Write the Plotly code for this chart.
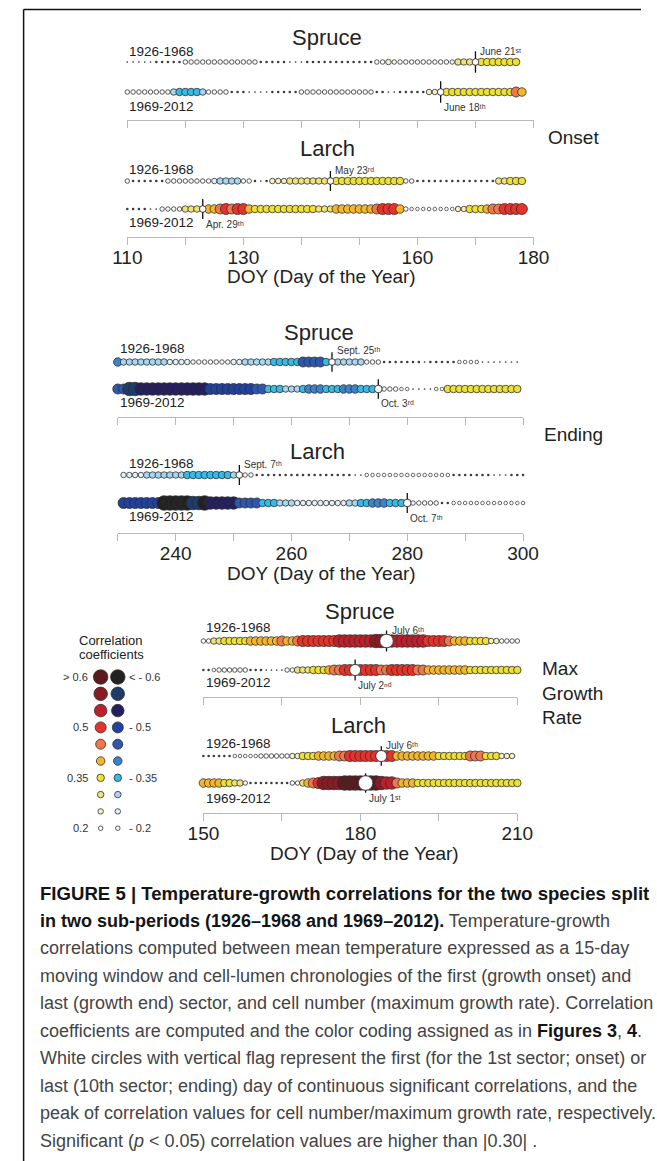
import plotly.graph_objects as go

# ============================ DATA ============================
# Correlation values per day of year, read from the figure as runs of
# consecutive days: (first DOY, last DOY, correlation coefficient)

# ---- Onset (DOY 110-180)
onset_spruce_1926 = [(110, 114, 0.05), (115, 119, 0.1), (120, 132, 0.2), (133, 137, 0.1), (138, 140, 0.05),
                     (141, 152, 0.1), (153, 154, 0.2), (155, 155, 0.25), (156, 166, 0.2), (167, 170, 0.3),
                     (171, 177, 0.35)]
onset_spruce_1969 = [(110, 117, 0.2), (118, 118, -0.3), (119, 122, -0.35), (123, 123, -0.3), (124, 127, -0.2),
                     (128, 130, 0.1), (131, 134, 0.05), (135, 139, 0.1), (140, 152, 0.2), (153, 154, 0.1),
                     (155, 156, 0.05), (157, 161, 0.1), (162, 163, 0.25), (164, 164, 0.3), (165, 176, 0.35),
                     (177, 177, 0.45), (178, 178, 0.4)]
onset_larch_1926 = [(110, 110, 0.2), (111, 116, 0.1), (117, 124, 0.2), (125, 125, -0.25), (126, 129, -0.3),
                    (130, 131, -0.2), (132, 132, 0.1), (133, 133, 0.05), (134, 134, 0.1), (135, 137, 0.25),
                    (138, 145, 0.3), (146, 157, 0.35), (158, 159, 0.2), (160, 173, 0.1), (174, 175, 0.3),
                    (176, 178, 0.35)]
onset_larch_1969 = [(110, 113, 0.1), (114, 115, 0.05), (116, 119, 0.2), (120, 123, 0.3), (124, 125, 0.4),
                    (126, 126, 0.45), (127, 127, 0.5), (128, 128, 0.45), (129, 130, 0.5), (131, 131, 0.4),
                    (132, 142, 0.35), (143, 145, 0.3), (146, 152, 0.4), (153, 153, 0.45), (154, 156, 0.5),
                    (157, 157, 0.4), (158, 158, 0.2), (159, 166, 0.15), (167, 168, 0.25), (169, 171, 0.35),
                    (172, 172, 0.4), (173, 174, 0.45), (175, 178, 0.5)]

# ---- Ending (DOY 230-300)
ending_spruce_1926 = [(230, 230, -0.4), (231, 238, -0.3), (239, 242, -0.25), (243, 249, -0.2), (250, 251, -0.25),
                      (252, 256, -0.3), (257, 261, -0.35), (262, 265, -0.45), (266, 266, -0.35), (267, 272, -0.3),
                      (273, 275, -0.2), (276, 282, 0.1), (283, 283, 0.05), (284, 288, 0.1), (289, 292, 0.15),
                      (293, 299, 0.05)]
ending_spruce_1969 = [(230, 231, -0.45), (232, 233, -0.6), (234, 245, -0.55), (246, 253, -0.5), (254, 255, -0.45),
                      (256, 258, -0.35), (259, 261, -0.3), (262, 262, -0.35), (263, 265, -0.4), (266, 268, -0.35),
                      (269, 271, -0.4), (272, 275, -0.35), (276, 278, -0.2), (279, 280, -0.15), (281, 284, 0.05),
                      (285, 286, 0.15), (287, 299, 0.35)]
ending_larch_1926 = [(231, 234, -0.25), (235, 241, -0.3), (242, 249, -0.35), (250, 251, -0.3), (252, 253, -0.2),
                     (254, 270, 0.1), (271, 272, 0.05), (273, 287, 0.15), (288, 294, 0.1), (295, 297, 0.05),
                     (298, 300, 0.1)]
ending_larch_1969 = [(231, 237, -0.5), (238, 242, -0.65), (243, 244, -0.6), (245, 245, -0.65), (246, 250, -0.55),
                     (251, 254, -0.45), (255, 257, -0.35), (258, 260, -0.3), (261, 269, -0.25), (270, 271, -0.3),
                     (272, 273, -0.35), (274, 276, -0.4), (277, 280, -0.35), (281, 285, -0.2), (286, 287, 0.1),
                     (288, 300, 0.15)]

# ---- Maximum growth rate (DOY 150-210)
max_spruce_1926 = [(150, 151, 0.2), (152, 153, 0.3), (154, 158, 0.35), (159, 164, 0.4), (165, 165, 0.45),
                   (166, 167, 0.4), (168, 168, 0.45), (169, 175, 0.5), (176, 182, 0.55), (183, 185, 0.6),
                   (186, 192, 0.55), (193, 196, 0.5), (197, 197, 0.45), (198, 200, 0.4), (201, 204, 0.35),
                   (205, 206, 0.25), (207, 210, 0.2)]
max_spruce_1969 = [(150, 151, 0.1), (152, 152, 0.15), (153, 158, 0.2), (159, 161, 0.1), (162, 165, 0.05),
                   (166, 167, 0.2), (168, 170, 0.3), (171, 173, 0.35), (174, 174, 0.4), (175, 176, 0.45),
                   (177, 183, 0.5), (184, 185, 0.45), (186, 190, 0.5), (191, 192, 0.45), (193, 200, 0.4),
                   (201, 210, 0.35)]
max_larch_1926 = [(150, 155, 0.1), (156, 160, 0.15), (161, 166, 0.2), (167, 168, 0.25), (169, 171, 0.35),
                  (172, 175, 0.4), (176, 177, 0.45), (178, 186, 0.5), (187, 194, 0.4), (195, 200, 0.35),
                  (201, 203, 0.45), (204, 206, 0.35), (207, 209, 0.25)]
max_larch_1969 = [(150, 153, 0.4), (154, 155, 0.35), (156, 157, 0.3), (158, 158, 0.2), (159, 166, 0.1),
                  (167, 168, 0.2), (169, 169, 0.3), (170, 170, 0.4), (171, 171, 0.45), (172, 172, 0.5),
                  (173, 176, 0.6), (177, 183, 0.65), (184, 184, 0.6), (185, 186, 0.55), (187, 187, 0.45),
                  (188, 190, 0.4), (191, 210, 0.35)]

# flagged (white) day in each row: spruce 1926, spruce 1969, larch 1926, larch 1969
onset_flag_days = [170, 164, 145, 123]
ending_flag_days = [267, 275, 251, 280]
max_flag_days = [185, 179, 184, 181]
onset_flag_labels = ["June 21ˢᵗ", "June 18ᵗʰ", "May 23ʳᵈ", "Apr. 29ᵗʰ"]
ending_flag_labels = ["Sept. 25ᵗʰ", "Oct. 3ʳᵈ", "Sept. 7ᵗʰ", "Oct. 7ᵗʰ"]
max_flag_labels = ["July 6ᵗʰ", "July 2ⁿᵈ", "July 6ᵗʰ", "July 1ˢᵗ"]

periods = ["1926-1968", "1969-2012"]
species_names = ["Spruce", "Larch"]
panel_names = ["Onset", "Ending", "Max<br>Growth<br>Rate"]

onset_range = [110, 180]
onset_tickvals = [110, 130, 160, 180]
onset_ticktext = ["110", "130", "160", "180"]
onset_minor_step = 10
ending_range = [230, 300]
ending_tickvals = [240, 260, 280, 300]
ending_ticktext = ["240", "260", "280", "300"]
ending_minor_step = 10
max_range = [150, 210]
max_tickvals = [150, 180, 210]
max_ticktext = ["150", "180", "210"]
max_minor_step = 15
axis_title = "DOY (Day of the Year)"

legend_levels = [0.65, 0.6, 0.55, 0.5, 0.45, 0.4, 0.35, 0.3, 0.25, 0.2]
legend_pos_labels = ["> 0.6", "", "", "0.5", "", "", "0.35", "", "", "0.2"]
legend_neg_labels = ["< - 0.6", "", "", "- 0.5", "", "", "- 0.35", "", "", "- 0.2"]
legend_title = ["Correlation", "coefficients"]

BOLD = '<b style="color:#141414">'
caption_lines = [
    BOLD + "FIGURE 5 | Temperature-growth correlations for the two species split</b>",
    BOLD + "in two sub-periods (1926–1968 and 1969–2012).</b> Temperature-growth",
    "correlations computed between mean temperature expressed as a 15-day",
    "moving window and cell-lumen chronologies of the first (growth onset) and",
    "last (growth end) sector, and cell number (maximum growth rate). Correlation",
    "coefficients are computed and the color coding assigned as in " + BOLD + "Figures 3</b>, " + BOLD + "4</b>.",
    "White circles with vertical flag represent the first (for the 1st sector; onset) or",
    "last (10th sector; ending) day of continuous significant correlations, and the",
    "peak of correlation values for cell number/maximum growth rate, respectively.",
    "Significant (<i>p</i> &lt; 0.05) correlation values are higher than |0.30| .",
]

# ============================ STYLE / LAYOUT ============================
W, H = 657, 1161
FONT = "Liberation Sans, Arial, Helvetica, sans-serif"
TXT = "#222222"
AXC = "#b8b8b8"

POS_COL = {4: "#ffffff", 5: "#f6f0c4", 6: "#f1e37c", 7: "#efe034", 8: "#f3b52c", 9: "#ef774b",
           10: "#e6322a", 11: "#bf1f2b", 12: "#8a1b22", 13: "#5b1b1e"}
NEG_COL = {4: "#ffffff", 5: "#e1f1f9", 6: "#a6d6f0", 7: "#36bbe6", 8: "#3b83cb", 9: "#2e57af",
           10: "#21419f", 11: "#241f5f", 12: "#1e3b6c", 13: "#222222"}
SIZE = {4: 4.5, 5: 5.5, 6: 6.5, 7: 7.5, 8: 8.5, 9: 10, 10: 11, 11: 12.5, 12: 13.5, 13: 14.5}


def style(r):
    a = abs(r)
    if a < 0.075:
        return 1.7, "#3c3c3c", 0
    if a < 0.125:
        return 2.6, "#3c3c3c", 0
    if a < 0.175:
        return 3.6, "#ffffff", 0.7
    k = min(13, int(round(a * 20)))
    return SIZE[k], (POS_COL if r > 0 else NEG_COL)[k], 0.8


def expand(runs):
    days, vals = [], []
    for d0, d1, r in runs:
        for d in range(d0, d1 + 1):
            days.append(d)
            vals.append(r)
    return days, vals


def px(x):
    return x / W


def py(y):
    return 1 - y / H


# block geometry in pixels: x0, x1, row(1926) y, row(1969) y, axis-line y
geom = [
    (117, 544, 62, 92, 120),
    (117, 544, 181, 209, 237),
    (107, 533, 362, 389, 417),
    (107, 533, 475, 503, 533),
    (197, 527, 641, 670, 697),
    (197, 527, 756, 783, 813),
]
title_pos = [(327, 38), (327, 148), (318, 332), (317, 452), (362, 611), (360, 725)]
period_lbl_pos = [((117, 52), (117, 106)), ((117, 169), (117, 222)), ((107, 348), (107, 402)),
                  ((117, 463), (117, 517)), ((198, 628), (198, 682)), ((198, 743), (198, 798))]
doy_title_pos = [(321, 277), (321, 573), (366, 853)]
panel_lbl_pos = [(557, 138), (553, 434), (551, 693)]

blocks = [
    (onset_spruce_1926, onset_spruce_1969, onset_flag_days[0:2], onset_flag_labels[0:2], onset_range,
     onset_tickvals, onset_ticktext, onset_minor_step),
    (onset_larch_1926, onset_larch_1969, onset_flag_days[2:4], onset_flag_labels[2:4], onset_range,
     onset_tickvals, onset_ticktext, onset_minor_step),
    (ending_spruce_1926, ending_spruce_1969, ending_flag_days[0:2], ending_flag_labels[0:2], ending_range,
     ending_tickvals, ending_ticktext, ending_minor_step),
    (ending_larch_1926, ending_larch_1969, ending_flag_days[2:4], ending_flag_labels[2:4], ending_range,
     ending_tickvals, ending_ticktext, ending_minor_step),
    (max_spruce_1926, max_spruce_1969, max_flag_days[0:2], max_flag_labels[0:2], max_range,
     max_tickvals, max_ticktext, max_minor_step),
    (max_larch_1926, max_larch_1969, max_flag_days[2:4], max_flag_labels[2:4], max_range,
     max_tickvals, max_ticktext, max_minor_step),
]

fig = go.Figure()
layout = {}
annotations = []

for i, (row26, row69, fdays, flabels, xr, tv, tt, mstep) in enumerate(blocks):
    n = i + 1
    xs = "x" if n == 1 else f"x{n}"
    ys = "y" if n == 1 else f"y{n}"
    xkey = "xaxis" if n == 1 else f"xaxis{n}"
    ykey = "yaxis" if n == 1 else f"yaxis{n}"
    x0, x1, r1y, r2y, ay = geom[i]
    unit = r2y - r1y
    ylo = -(ay - r2y) / unit
    yhi = 1.6
    ytop = r1y - 0.6 * unit
    is_larch = (i % 2 == 1)

    layout[xkey] = dict(domain=[px(x0), px(x1)], range=xr, anchor=ys, showline=True, linecolor=AXC,
                        linewidth=1, ticks="outside", ticklen=7, tickwidth=1, tickcolor=AXC,
                        tickmode="array", tickvals=tv, ticktext=tt, showticklabels=is_larch,
                        ticklabelstandoff=-4,
                        minor=dict(ticks="outside", ticklen=7, tickwidth=1, tickcolor=AXC,
                                   tick0=xr[0], dtick=mstep, showgrid=False),
                        tickfont=dict(size=19, color=TXT, family=FONT), showgrid=False, zeroline=False,
                        fixedrange=True)
    layout[ykey] = dict(domain=[py(ay), py(ytop)], range=[ylo, yhi], anchor=xs, visible=False,
                        fixedrange=True)

    flag_x, flag_y, flag_s = [], [], []
    for rowidx, runs in ((1, row26), (0, row69)):
        days, vals = expand(runs)
        st = [style(v) for v in vals]
        fig.add_trace(go.Scatter(
            x=days, y=[rowidx] * len(days), xaxis=xs, yaxis=ys, mode="markers", cliponaxis=False,
            marker=dict(size=[s[0] for s in st], color=[s[1] for s in st],
                        line=dict(color="#2e2e2e", width=[s[2] for s in st]), opacity=1),
            hoverinfo="skip", showlegend=False))
        fd = fdays[0] if rowidx == 1 else fdays[1]
        fv = vals[days.index(fd)]
        flag_x.append(fd)
        flag_y.append(rowidx)
        flag_s.append(max(style(fv)[0], 6.5))

    # flag lines
    lx, ly = [], []
    for fx, fy in zip(flag_x, flag_y):
        lx += [fx, fx, None]
        ly += [fy - 0.36, fy + 0.36, None]
    fig.add_trace(go.Scatter(x=lx, y=ly, xaxis=xs, yaxis=ys, mode="lines", cliponaxis=False,
                             line=dict(color="#111111", width=1.3), hoverinfo="skip", showlegend=False))
    fig.add_trace(go.Scatter(x=flag_x, y=flag_y, xaxis=xs, yaxis=ys, mode="markers", cliponaxis=False,
                             marker=dict(size=flag_s, color="#ffffff", opacity=1,
                                         line=dict(color="#2e2e2e", width=0.8)),
                             hoverinfo="skip", showlegend=False))

    # flag labels
    for fx, fy, lab in zip(flag_x, flag_y, flabels):
        above = fy == 1
        annotations.append(dict(x=fx, y=fy, xref=xs, yref=ys, text=lab, showarrow=False,
                                xanchor="left", yanchor="middle", xshift=3 if above else 1,
                                yshift=11 if above else -15,
                                font=dict(size=10, color="#333333", family=FONT)))

    # species title
    tx, ty = title_pos[i]
    annotations.append(dict(x=px(tx), y=py(ty), xref="paper", yref="paper", text=species_names[i % 2],
                            showarrow=False, xanchor="center", yanchor="middle",
                            font=dict(size=22, color=TXT, family=FONT)))
    # period labels
    for (lx_, ly_), per in zip(period_lbl_pos[i], periods):
        annotations.append(dict(x=px(lx_), y=py(ly_), xref="paper", yref="paper", text=per,
                                showarrow=False, xanchor="left", yanchor="middle",
                                font=dict(size=13.5, color=TXT, family=FONT)))

# DOY titles and panel names
for (tx, ty) in doy_title_pos:
    annotations.append(dict(x=px(tx), y=py(ty), xref="paper", yref="paper", text=axis_title,
                            showarrow=False, xanchor="center", yanchor="middle",
                            font=dict(size=19, color=TXT, family=FONT)))
for (tx, ty), name in zip(panel_lbl_pos, panel_names):
    annotations.append(dict(x=px(tx), y=py(ty), xref="paper", yref="paper", text=name,
                            showarrow=False, xanchor="left", yanchor="middle", align="left",
                            font=dict(size=19, color=TXT, family=FONT)))

# ---------------- legend (its own small axes) ----------------
leg_rows = list(range(1, len(legend_levels) + 1))
pos_st = [style(v) for v in legend_levels]
neg_st = [style(-v) for v in legend_levels]
for col, st in ((0, pos_st), (1, neg_st)):
    fig.add_trace(go.Scatter(x=[col] * len(leg_rows), y=leg_rows, xaxis="x7", yaxis="y7", mode="markers",
                             cliponaxis=False,
                             marker=dict(size=[s[0] for s in st], color=[s[1] for s in st], opacity=1,
                                         line=dict(color="#2e2e2e", width=0.8)),
                             hoverinfo="skip", showlegend=False))
LEG_TOP, LEG_STEP = 677, 16.8
layout["xaxis7"] = dict(domain=[px(80), px(116)], range=[-0.5, 1.5], anchor="y7", visible=False, fixedrange=True)
layout["yaxis7"] = dict(domain=[py(LEG_TOP + LEG_STEP * 9.5), py(LEG_TOP - LEG_STEP * 0.5)],
                        range=[10.5, 0.5], anchor="x7", visible=False, fixedrange=True)
for k, (pl, nl) in enumerate(zip(legend_pos_labels, legend_neg_labels)):
    yk = LEG_TOP + LEG_STEP * k
    if pl:
        annotations.append(dict(x=px(78), y=py(yk), xref="paper", yref="paper", text=pl, showarrow=False,
                                xanchor="right", yanchor="middle", font=dict(size=11, color="#333333", family=FONT)))
    if nl:
        annotations.append(dict(x=px(117), y=py(yk), xref="paper", yref="paper", text=nl, showarrow=False,
                                xanchor="left", yanchor="middle", font=dict(size=11, color="#333333", family=FONT)))
for j, t in enumerate(legend_title):
    annotations.append(dict(x=px(100), y=py(640 + 14 * j), xref="paper", yref="paper", text=t,
                            showarrow=False, xanchor="center", yanchor="middle",
                            font=dict(size=13, color=TXT, family=FONT)))

# ---------------- caption ----------------
CAP_TOP, CAP_STEP = 893, 27.5
for j, line in enumerate(caption_lines):
    annotations.append(dict(x=px(23), y=py(CAP_TOP + CAP_STEP * j), xref="paper", yref="paper", text=line,
                            showarrow=False, xanchor="left", yanchor="middle", align="left",
                            font=dict(size=18.6 if j == 0 else 18, color="#444444", family=FONT)))

# frame lines (left and top)
shapes = [
    dict(type="line", xref="paper", yref="paper", x0=px(8), x1=px(8), y0=py(9.5), y1=0,
         line=dict(color="#111111", width=1.5)),
    dict(type="line", xref="paper", yref="paper", x0=px(8), x1=1, y0=py(9.5), y1=py(9.5),
         line=dict(color="#111111", width=1.5)),
]

fig.update_layout(width=W, height=H, margin=dict(l=0, r=0, t=0, b=0), paper_bgcolor="white",
                  plot_bgcolor="rgba(0,0,0,0)", showlegend=False, annotations=annotations, shapes=shapes,
                  font=dict(family=FONT, color=TXT), **layout)

fig.write_html("out.html", config={"displayModeBar": False, "staticPlot": True},
               post_script="document.body.style.margin='0';document.body.style.overflow='hidden';")
